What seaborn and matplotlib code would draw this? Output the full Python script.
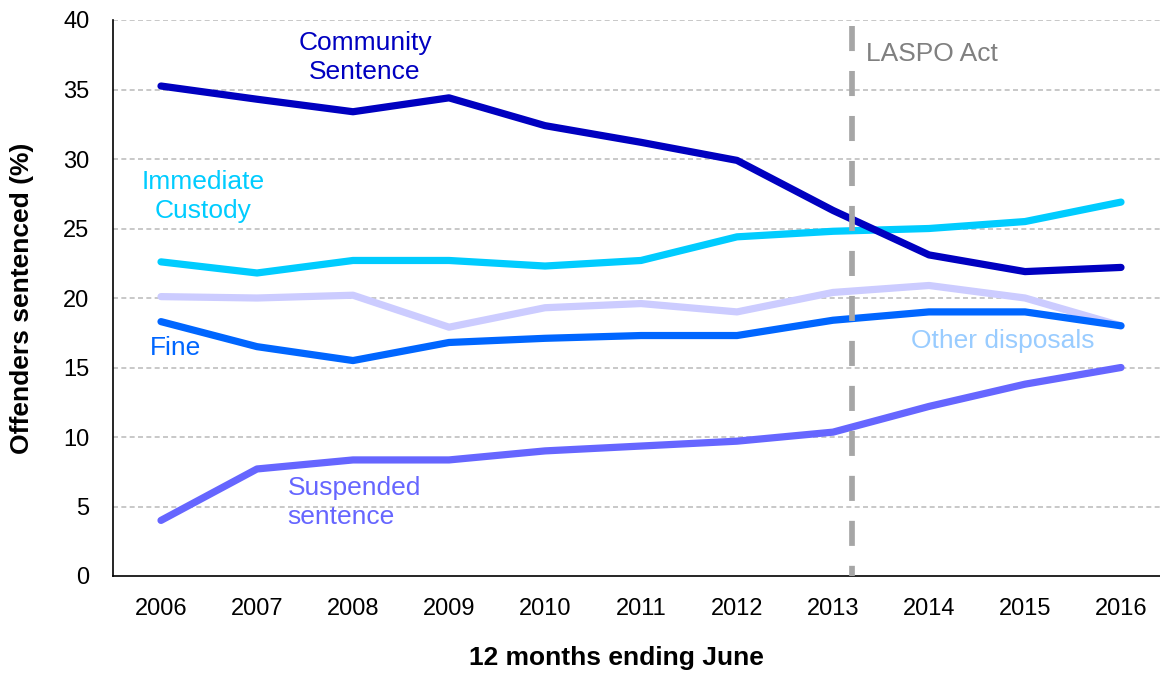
import matplotlib

matplotlib.use("Agg")

import numpy as np
import pandas as pd
import seaborn as sns
import matplotlib.pyplot as plt
from matplotlib.ticker import FixedLocator

years = ["2006", "2007", "2008", "2009", "2010", "2011", "2012", "2013", "2014", "2015", "2016"]

community_sentence = [35.25, 34.3, 33.4, 34.4, 32.4, 31.2, 29.9, 26.3, 23.1, 21.9, 22.2]
immediate_custody = [22.6, 21.8, 22.7, 22.7, 22.3, 22.7, 24.4, 24.8, 25.0, 25.5, 26.9]
other_disposals = [20.1, 20.0, 20.2, 17.9, 19.3, 19.6, 19.0, 20.4, 20.9, 20.0, 18.0]
fine = [18.3, 16.5, 15.5, 16.8, 17.1, 17.3, 17.3, 18.4, 19.0, 19.0, 18.0]
suspended_sentence = [4.0, 7.7, 8.35, 8.35, 9.0, 9.35, 9.7, 10.35, 12.2, 13.8, 15.0]

series_names = ["Other disposals", "Immediate Custody", "Fine", "Suspended sentence", "Community Sentence"]
series_values = [other_disposals, immediate_custody, fine, suspended_sentence, community_sentence]
colors = {
    "Community Sentence": "#0000C0",
    "Immediate Custody": "#00CCFF",
    "Other disposals": "#CCCCFF",
    "Fine": "#0066FF",
    "Suspended sentence": "#6666FF",
}

laspo_position = 7.2

rows = []
for name, values in zip(series_names, series_values):
    for idx, value in enumerate(values):
        rows.append({"pos": idx, "series": name, "value": value})
df = pd.DataFrame(rows)

sns.set_style("white")
plt.rcParams["font.family"] = ["Liberation Sans", "DejaVu Sans"]
plt.rcParams["text.color"] = "black"
plt.rcParams["axes.labelcolor"] = "black"
plt.rcParams["xtick.color"] = "black"
plt.rcParams["ytick.color"] = "black"

fig = plt.figure(figsize=(11.6, 6.75), dpi=100)
ax = fig.add_axes([113 / 1160, 1 - 576 / 675, 1 - 113 / 1160, 556 / 675])

for y in range(5, 45, 5):
    ax.axhline(y, color="#BFBFBF", lw=1.2, ls=(0, (3, 2)), zorder=0)

sns.lineplot(data=df, x="pos", y="value", hue="series", palette=colors,
             hue_order=series_names, lw=5.2, legend=False, ax=ax,
             solid_capstyle="round", zorder=3)

ax.plot([laspo_position, laspo_position], [39.6, 0], color="#A6A6A6", lw=4.1,
        ls=(0, (4.4, 3.5)), zorder=4)

ax.set_xlim(-0.5, -0.5 + (1160 - 113) / 96)
ax.set_ylim(0, 40)
ax.set_yticks(range(0, 45, 5))
ax.set_xticks(range(len(years)))
ax.set_xticklabels(years)
ax.xaxis.set_minor_locator(FixedLocator(np.arange(-0.5, len(years), 1.0)))
ax.tick_params(axis="x", which="major", length=0, pad=16, labelsize=17)
ax.tick_params(axis="x", which="minor", length=8, width=1.2, color="black", direction="out")
ax.tick_params(axis="y", length=0, pad=17, labelsize=17)

for side in ["top", "right"]:
    ax.spines[side].set_visible(False)
for side in ["left", "bottom"]:
    ax.spines[side].set_color("black")
    ax.spines[side].set_linewidth(1.2)

ax.set_xlabel("12 months ending June", fontsize=19, fontweight="bold", va="center")
ax.xaxis.set_label_coords(0.481, -0.147)
ax.set_ylabel("Offenders sentenced (%)", fontsize=19, fontweight="bold", va="center")
ax.yaxis.set_label_coords(-0.087, 0.5)

ax.text(2.125, 37.3, "Community\nSentence", color="#0000C0", fontsize=19, ha="center",
        va="center", linespacing=1.25)
ax.text(0.44, 27.3, "Immediate\nCustody", color="#00CCFF", fontsize=19, ha="center",
        va="center", linespacing=1.25)
ax.text(0.146, 16.4, "Fine", color="#0066FF", fontsize=19, ha="center", va="center")
ax.text(8.77, 16.9, "Other disposals", color="#99CCFF", fontsize=19, ha="center", va="center")
ax.text(1.32, 5.3, "Suspended\nsentence", color="#6666FF", fontsize=19, ha="left",
        va="center", linespacing=1.25)
ax.text(7.34, 37.55, "LASPO Act", color="#808080", fontsize=19,
        ha="left", va="center")

fig.savefig("out.png", dpi=100)
plt.close(fig)
